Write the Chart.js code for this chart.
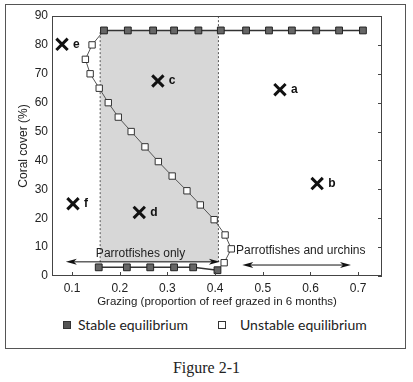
<!DOCTYPE html>
<html>
<head>
<meta charset="utf-8">
<script src="https://cdn.jsdelivr.net/npm/chart.js@4.4.0/dist/chart.umd.min.js"></script>
<style>
  body { margin: 0; background: #fff; }
  #wrap { position: relative; width: 413px; height: 382px; background: #fff; }
  #frame { position: absolute; left: 5px; top: 4px; width: 401px; height: 345px; border: 1px solid #555; box-sizing: border-box; }
  #cv { position: absolute; left: 0; top: 0; }
  .leg { position: absolute; top: 316px; font: 14px Lato, sans-serif; color: #222; line-height: 18px; }
  .box { position: absolute; top: 321px; width: 8px; height: 8px; box-sizing: border-box; border: 1px solid #333; }
  #cap { position: absolute; left: 0; width: 413px; top: 359px; text-align: center; font: 16px "Liberation Serif", serif; color: #222; }
</style>
</head>
<body>
<div id="wrap">
  <div id="frame"></div>
  <canvas id="cv" width="413" height="312"></canvas>
  <div class="box" style="left:63px;background:#555"></div>
  <div class="leg" style="left:78px">Stable equilibrium</div>
  <div class="box" style="left:218px;background:#fff"></div>
  <div class="leg" style="left:240px">Unstable equilibrium</div>
  <div id="cap">Figure 2-1</div>
</div>
<script>
// --- dados ---
var altoX = [0.167, 0.217, 0.27, 0.314, 0.365, 0.412, 0.465, 0.513, 0.561, 0.612, 0.66, 0.71];
var altoY = [85, 85, 85, 85, 85, 85, 85, 85, 85, 85, 85, 85];
var baixoX = [0.156, 0.215, 0.264, 0.314, 0.354, 0.405];
var baixoY = [3, 3, 3, 3, 3, 2];
// ramo instavel (primeiro e ultimo ponto sao as pontas estaveis)
var instX = [0.167, 0.142, 0.128, 0.138, 0.157, 0.176, 0.197, 0.224, 0.253, 0.281, 0.31, 0.341, 0.369, 0.398, 0.421, 0.434, 0.419, 0.405];
var instY = [85, 80, 75, 70, 65, 60, 55, 50, 44.7, 39.6, 34.6, 29.5, 24.6, 19.5, 14.2, 9.4, 4.6, 2];
// zona sombreada
var zonaX = [0.159, 0.407];
var zonaY = [4.8, 85];
// marcas X
var marcaX = [0.536, 0.614, 0.28, 0.241, 0.079, 0.102];
var marcaY = [64.5, 32, 67.5, 22, 80.2, 25];
var marcaTxt = ['a', 'b', 'c', 'd', 'e', 'f'];
// setas
var setaX1 = [0.087, 0.457];
var setaX2 = [0.41, 0.685];
var setaY = [4.9, 3.8];
var rotX = [0.150, 0.444];
var rotY = [7.6, 8.7];
var rotTxt = ['Parrotfishes only', 'Parrotfishes and urchins'];
var ticksX = [0.1, 0.2, 0.3, 0.4, 0.5, 0.6, 0.7];
var ticksY = [0, 10, 20, 30, 40, 50, 60, 70, 80, 90];

function pts(xs, ys) {
  return xs.map(function (x, i) { return { x: x, y: ys[i] }; });
}

var extras = {
  id: 'extras',
  afterDatasetsDraw: function (chart) {
    var c = chart.ctx, xs = chart.scales.x, ys = chart.scales.y, a = chart.chartArea;
    c.save();
    // moldura
    c.strokeStyle = '#444';
    c.lineWidth = 1;
    c.strokeRect(a.left + 0.5, a.top + 0.5, a.right - a.left - 1, a.bottom - a.top - 1);
    // ticks para dentro
    c.beginPath();
    ticksY.forEach(function (v) {
      var y = Math.round(ys.getPixelForValue(v)) + 0.5;
      c.moveTo(a.right, y); c.lineTo(a.right - 4, y);
    });
    ticksX.forEach(function (v) {
      var x = Math.round(xs.getPixelForValue(v)) + 0.5;
      c.moveTo(x, a.bottom); c.lineTo(x, a.bottom - 4);
    });
    c.stroke();
    // setas
    c.strokeStyle = '#111';
    c.fillStyle = '#111';
    for (var i = 0; i < setaX1.length; i++) {
      var x1 = xs.getPixelForValue(setaX1[i]), x2 = xs.getPixelForValue(setaX2[i]);
      var y = ys.getPixelForValue(setaY[i]);
      c.beginPath(); c.moveTo(x1 + 6, y); c.lineTo(x2 - 6, y); c.stroke();
      c.beginPath(); c.moveTo(x1, y); c.lineTo(x1 + 11, y - 3); c.lineTo(x1 + 8, y); c.lineTo(x1 + 11, y + 3); c.closePath(); c.fill();
      c.beginPath(); c.moveTo(x2, y); c.lineTo(x2 - 11, y - 3); c.lineTo(x2 - 8, y); c.lineTo(x2 - 11, y + 3); c.closePath(); c.fill();
    }
    // textos
    c.font = '12px "Liberation Sans", Arial, sans-serif';
    c.textAlign = 'left';
    c.textBaseline = 'middle';
    c.fillStyle = '#222';
    rotTxt.forEach(function (t, i) {
      c.fillText(t, xs.getPixelForValue(rotX[i]), ys.getPixelForValue(rotY[i]));
    });
    c.font = 'bold 12px "Liberation Sans", Arial, sans-serif';
    c.fillStyle = '#111';
    marcaTxt.forEach(function (t, i) {
      c.fillText(t, xs.getPixelForValue(marcaX[i]) + 11, ys.getPixelForValue(marcaY[i]));
    });
    c.restore();
  }
};

new Chart(document.getElementById('cv'), {
  type: 'scatter',
  data: {
    datasets: [
      { label: 'zona', data: pts(zonaX, [zonaY[1], zonaY[1]]), showLine: true, pointRadius: 0, borderWidth: 0,
        fill: { value: zonaY[0] }, backgroundColor: 'rgba(160,160,160,0.42)', order: 10 },
      { label: 'lim1', data: pts([zonaX[0], zonaX[0]], zonaY), showLine: true, pointRadius: 0, borderWidth: 1,
        borderColor: '#555', borderDash: [2, 2], order: 9 },
      { label: 'lim2', data: pts([zonaX[1], zonaX[1]], [zonaY[0], 90]), showLine: true, pointRadius: 0, borderWidth: 1,
        borderColor: '#555', borderDash: [2, 2], order: 9 },
      { label: 'Unstable equilibrium', data: pts(instX, instY), showLine: true, borderColor: '#555', borderWidth: 1,
        pointStyle: 'rect', pointBackgroundColor: '#fff', pointBorderColor: '#333', pointBorderWidth: 1,
        pointRadius: function (ctx) { return (ctx.dataIndex === 0 || ctx.dataIndex === instX.length - 1) ? 0 : 4.5; },
        order: 3 },
      { label: 'Stable equilibrium', data: pts(altoX, altoY), showLine: true, borderColor: '#333', borderWidth: 1.5,
        pointStyle: 'rect', pointBackgroundColor: '#666', pointBorderColor: '#222', pointBorderWidth: 1, pointRadius: 4.8, order: 2 },
      { label: 'Stable low', data: pts(baixoX, baixoY), showLine: true, borderColor: '#333', borderWidth: 1.5,
        pointStyle: 'rect', pointBackgroundColor: '#666', pointBorderColor: '#222', pointBorderWidth: 1, pointRadius: 4.8, order: 2 },
      { label: 'marcas', data: pts(marcaX, marcaY), showLine: false, pointStyle: 'crossRot', pointRadius: 8,
        pointBorderWidth: 3, pointBorderColor: '#111', order: 1 }
    ]
  },
  options: {
    responsive: false,
    animation: false,
    layout: { padding: { left: 16, right: 31, top: 16, bottom: 0 } },
    plugins: { legend: { display: false }, tooltip: { enabled: false } },
    scales: {
      x: {
        type: 'linear', min: 0.058, max: 0.75,
        afterBuildTicks: function (s) { s.ticks = ticksX.map(function (v) { return { value: v }; }); },
        afterFit: function (s) { s.height = 36; },
        grid: { display: false, drawTicks: false },
        border: { display: false },
        ticks: { padding: 5, color: '#222', font: { family: 'Liberation Sans', size: 12 },
          callback: function (v) { return v.toFixed(1); } },
        title: { display: true, text: 'Grazing (proportion of reef grazed in 6 months)', color: '#222',
          font: { family: 'Liberation Sans', size: 11.5 }, padding: { top: 0, bottom: 3 } }
      },
      y: {
        min: 0, max: 90,
        afterBuildTicks: function (s) { s.ticks = ticksY.map(function (v) { return { value: v }; }); },
        afterFit: function (s) { s.width = 36; },
        grid: { display: false, drawTicks: false },
        border: { display: false },
        ticks: { padding: 4, color: '#222', font: { family: 'Liberation Sans', size: 12 } },
        title: { display: true, text: 'Coral cover (%)', color: '#222',
          font: { family: 'Liberation Sans', size: 12 }, padding: { top: 0, bottom: 0 } }
      }
    }
  },
  plugins: [extras]
});
</script>
</body>
</html>
